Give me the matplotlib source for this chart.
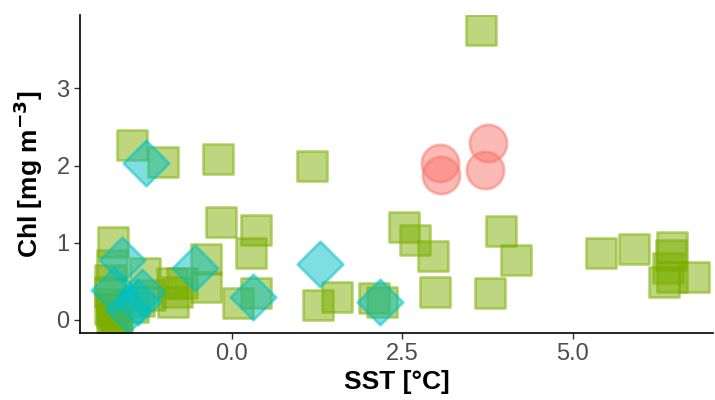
import matplotlib.pyplot as plt

plt.rcParams['font.family'] = ['Liberation Sans', 'DejaVu Sans']

# Chl vs SST, three water-mass groups
sst_green = [3.65, -1.46, -1.01, -0.20, 1.18, -0.15, 0.35, 0.29, -0.37, -0.37,
             -0.88, -0.72, -0.80, -0.86, 0.09, 0.35, 1.26, 1.55, 2.09, 2.21,
             2.53, 2.69, 2.95, 2.98, 3.79, 3.95, 4.17, 5.41, 5.90, 6.45,
             6.43, 6.40, 6.45, 6.33, 6.77, -1.74, -1.75, -1.27, -1.78, -1.78,
             -1.20, -1.45, -1.35, -1.75, -1.75, -1.75, -1.72, -1.70, -1.78, -1.68]
chl_green = [3.75, 2.27, 2.05, 2.08, 2.00, 1.27, 1.17, 0.87, 0.79, 0.43,
             0.48, 0.48, 0.36, 0.23, 0.22, 0.35, 0.19, 0.30, 0.28, 0.23,
             1.20, 1.03, 0.83, 0.36, 0.35, 1.15, 0.78, 0.87, 0.92, 0.95,
             0.84, 0.67, 0.56, 0.49, 0.56, 1.01, 0.71, 0.61, 0.52, 0.36,
             0.32, 0.17, 0.25, 0.20, 0.10, 0.03, 0.00, 0.06, 0.14, 0.02]

sst_cyan = [-1.26, -1.60, -0.53, 0.32, 1.29, 2.18, -1.32, -1.37, -1.52, -1.73]
chl_cyan = [2.03, 0.78, 0.67, 0.30, 0.72, 0.23, 0.36, 0.23, 0.13, 0.39]

sst_red = [3.06, 3.07, 3.76, 3.71]
chl_red = [2.03, 1.88, 2.29, 1.94]

fig = plt.figure(figsize=(7.15, 4), dpi=100)
ax = fig.add_axes([0.112, 0.1675, 0.885, 0.795])

ax.scatter(sst_green, chl_green, marker='s', s=480, color='#7CAE00', alpha=0.5,
           linewidths=2.0)
ax.scatter(sst_cyan, chl_cyan, marker='D', s=540, color='#00BFC4', alpha=0.5,
           linewidths=2.0)
ax.scatter(sst_red, chl_red, marker='o', s=720, color='#F8766D', alpha=0.5,
           linewidths=2.0)

ax.set_xlim(-2.22, 7.05)
ax.set_ylim(-0.17, 3.95)
ax.set_xticks([0, 2.5, 5.0])
ax.set_xticklabels(['0.0', '2.5', '5.0'])
ax.set_yticks([0, 1, 2, 3])

for side in ['top', 'right']:
    ax.spines[side].set_visible(False)
for side in ['left', 'bottom']:
    ax.spines[side].set_linewidth(1.2)
ax.tick_params(colors='#333333', labelcolor='#4D4D4D', labelsize=17,
               length=4, width=1)

ax.set_xlabel('SST [°C]', fontsize=19, fontweight='bold', labelpad=3)
ax.set_ylabel('Chl [mg m$^{\\mathbf{-3}}$]', fontsize=19, fontweight='bold',
              labelpad=8)

plt.savefig('out.png', dpi=100)
